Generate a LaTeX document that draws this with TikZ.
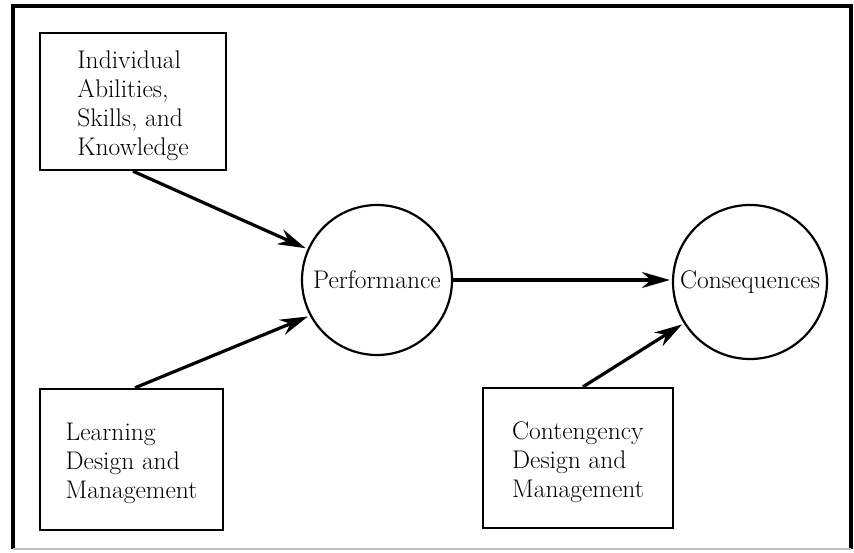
\documentclass[tikz,border=0pt]{standalone}
\usetikzlibrary{arrows.meta}
\newcommand{\mytopstrut}{\rule{0pt}{26pt}}
\begin{document}
\begin{tikzpicture}[x=1pt,y=-1pt,
  txt/.style={font=\fontsize{25.5}{29}\selectfont},
  factor/.style={txt,draw,line width=2.4pt,rectangle,align=left,inner sep=0pt},
  outcome/.style={txt,draw,line width=2.2pt,circle,inner sep=0pt},
  link/.style={line width=3.2pt,shorten >=2pt,-{Stealth[length=28pt,width=16pt,inset=9pt]}}]
\useasboundingbox (0,0) rectangle (854,553);
\draw[line width=3.5pt] (13,549) -- (13,6) -- (851,6) -- (851,549);
\draw[line width=1.5pt,gray!50] (13,549) -- (851,549);
\node[factor,minimum width=186pt,minimum height=137pt] (abil) at (133,101.5)
  {\mytopstrut Individual\\Abilities,\\Skills, and\\Knowledge};
\node[factor,minimum width=183pt,minimum height=141pt] (learn) at (131.5,459.5)
  {\mytopstrut Learning\\Design and\\Management};
\node[factor,minimum width=190pt,minimum height=140pt] (cont) at (578,458)
  {\mytopstrut Contengency\\Design and\\Management};
\node[outcome,minimum size=150pt] (perf) at (377,280) {Performance};
\node[outcome,minimum size=154pt] (cons) at (750,282) {Consequences};
\draw[link] (abil.south) -- (perf.156);
\draw[link] ([xshift=3.5pt]learn.north) -- (perf.208);
\draw[link] (perf.east) -- (cons.west |- perf.east);
\draw[link] ([xshift=5pt]cont.north) -- (cons.212);
\end{tikzpicture}
\end{document}
